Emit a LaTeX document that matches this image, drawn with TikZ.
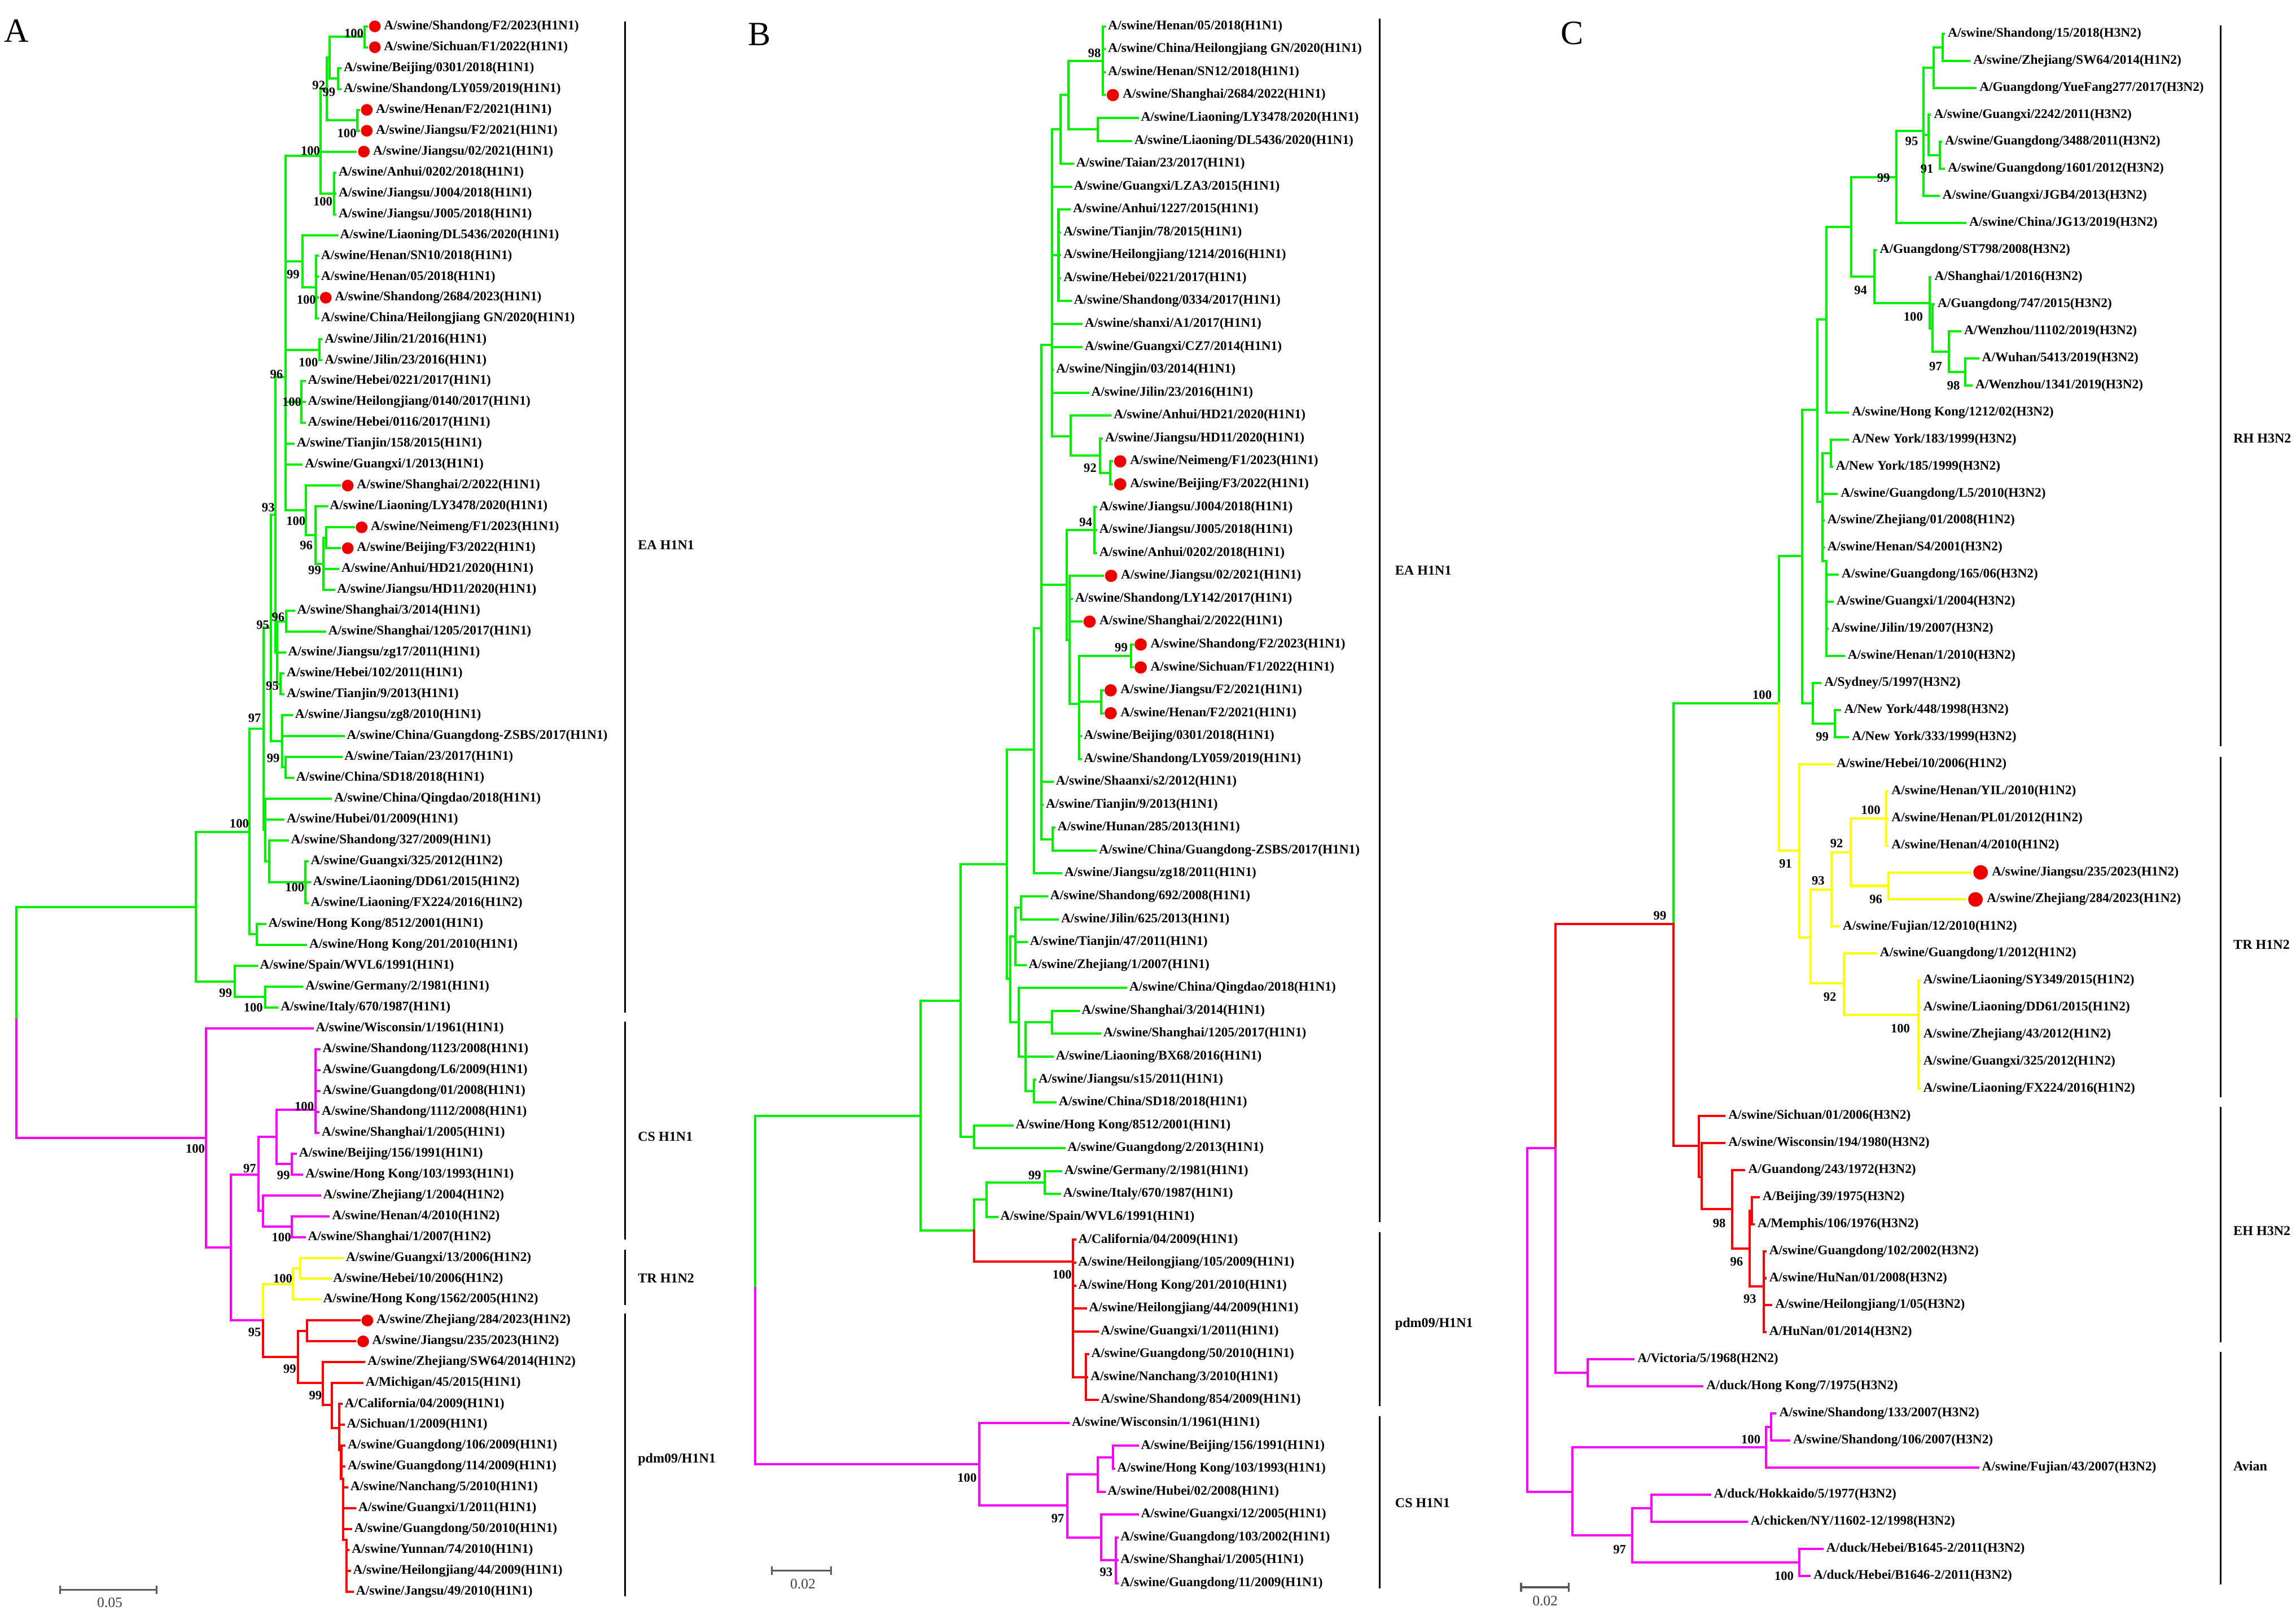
\documentclass[tikz,border=0pt]{standalone}
\usepackage{fontspec}
\setmainfont{Liberation Serif}
\definecolor{cladegreen}{RGB}{0,240,0}
\definecolor{cladepink}{RGB}{255,0,255}
\definecolor{cladeyellow}{RGB}{255,255,0}
\definecolor{cladered}{RGB}{255,0,0}
\definecolor{dotred}{RGB}{238,0,0}

\begin{document}
\begin{tikzpicture}[x=0.025cm, y=-0.025cm,
  grnbr/.style={cladegreen, line width=1.1pt, line cap=rect},
  pinkbr/.style={cladepink, line width=1.1pt, line cap=rect},
  yelbr/.style={cladeyellow, line width=1.1pt, line cap=rect},
  redbr/.style={cladered, line width=1.1pt, line cap=rect},
  leaf/.style={anchor=west, inner sep=0pt, font=\fontsize{6.4}{7}\selectfont\bfseries},
  boot/.style={inner sep=0pt, font=\fontsize{6.2}{7}\selectfont\bfseries},
  clade/.style={anchor=west, inner sep=0pt, font=\fontsize{6.6}{8}\selectfont\bfseries},
  cladebar/.style={line width=0.9pt},
  scalebar/.style={black!65, line width=0.9pt},
  scalelbl/.style={black!75, inner sep=0pt, font=\fontsize{7}{8}\selectfont},
  panel/.style={inner sep=0pt, font=\fontsize{16.5}{18}\selectfont}]
\fill[white] (0,0) rectangle (1568,1106);
\useasboundingbox (0,0) rectangle (1568,1106);

% ---------------- Panel A ----------------
\node[panel] (pA) at (11.3,21) {A};
\begin{scope}[shift={(0,3.75)}, y=-0.35625cm]
  % EA H1N1
  \foreach \x/\a/\b in {249/1/2, 231/3/4, 225/1.5/3.5, 244/5/6, 223/2.5/5.5, 228/8/10, 219/4/9,
    216/12/15, 206.6/11/13.5, 218/16/17, 206/18/20, 222.8/25/26, 221/25.5/28, 215.4/24/26.75,
    209/23/25.375, 195/7.2/24.19, 195.6/29/30, 191.7/32/33, 189.4/29.5/32.5, 188/17.8/31,
    195/36/37, 192.8/34/36.5, 185/24.4/35.25, 208.6/41/43, 184/40/42, 181/38/41, 180/29.8/39.5,
    175.3/44/45, 170.5/34.65/44.5, 181/47/48, 160.3/46/47.5, 133.7/39.6/46.75, 11.3/43.2/48.6}
    \draw[grnbr] (\x,\a) -- (\x,\b);
  \foreach \a/\b/\r in {225/249/1.5, 225/231/3.5, 223/225/2.5, 223/244/5.5, 219/223/4, 219/228/9,
    195/219/7.2, 206.6/216/13.5, 195/206.6/12.25, 195/218/16.5, 195/206/19, 221/222.8/25.5,
    215.4/221/26.75, 209/215.4/25.375, 195/209/24.19, 188/195/17.8, 189.4/195.6/29.5,
    189.4/191.7/32.5, 188/189.4/31, 192.8/195/36.5, 185/188/24.4, 185/192.8/35.25, 184/208.6/42,
    181/184/41, 180/185/29.8, 180/181/39.5, 170.5/180/34.65, 170.5/175.3/44.5, 160.3/181/47.5,
    133.7/170.5/39.6, 133.7/160.3/46.75, 11.3/133.7/43.2}
    \draw[grnbr] (\a,\r) -- (\b,\r);
  \foreach \r/\p/\t/\l in {
    3/231/232.5/{A/swine/Beijing/0301/2018(H1N1)}, 4/231/232.5/{A/swine/Shandong/LY059/2019(H1N1)},
    8/228/229/{A/swine/Anhui/0202/2018(H1N1)}, 9/228/229/{A/swine/Jiangsu/J004/2018(H1N1)},
    10/228/229/{A/swine/Jiangsu/J005/2018(H1N1)}, 11/206.6/230/{A/swine/Liaoning/DL5436/2020(H1N1)},
    12/216/217/{A/swine/Henan/SN10/2018(H1N1)}, 13/216/217/{A/swine/Henan/05/2018(H1N1)},
    15/216/217/{A/swine/China/Heilongjiang GN/2020(H1N1)}, 16/218/219.5/{A/swine/Jilin/21/2016(H1N1)},
    17/218/219.5/{A/swine/Jilin/23/2016(H1N1)}, 18/206/208/{A/swine/Hebei/0221/2017(H1N1)},
    19/206/208/{A/swine/Heilongjiang/0140/2017(H1N1)}, 20/206/208/{A/swine/Hebei/0116/2017(H1N1)},
    21/195/200.5/{A/swine/Tianjin/158/2015(H1N1)}, 22/195/206/{A/swine/Guangxi/1/2013(H1N1)},
    24/215.4/223/{A/swine/Liaoning/LY3478/2020(H1N1)}, 27/221/231/{A/swine/Anhui/HD21/2020(H1N1)},
    28/221/228/{A/swine/Jiangsu/HD11/2020(H1N1)}, 29/195.6/200.7/{A/swine/Shanghai/3/2014(H1N1)},
    30/195.6/222/{A/swine/Shanghai/1205/2017(H1N1)}, 31/189.4/194.5/{A/swine/Jiangsu/zg17/2011(H1N1)},
    32/191.7/193.6/{A/swine/Hebei/102/2011(H1N1)}, 33/191.7/193.6/{A/swine/Tianjin/9/2013(H1N1)},
    34/192.8/199.3/{A/swine/Jiangsu/zg8/2010(H1N1)}, 35/192.8/234.6/{A/swine/China/Guangdong-ZSBS/2017(H1N1)},
    36/195/233/{A/swine/Taian/23/2017(H1N1)}, 37/195/200/{A/swine/China/SD18/2018(H1N1)},
    38/181/226/{A/swine/China/Qingdao/2018(H1N1)}, 39/181/193.6/{A/swine/Hubei/01/2009(H1N1)},
    40/184/196.5/{A/swine/Shandong/327/2009(H1N1)}, 41/208.6/210/{A/swine/Guangxi/325/2012(H1N2)},
    42/208.6/211.5/{A/swine/Liaoning/DD61/2015(H1N2)}, 43/208.6/210/{A/swine/Liaoning/FX224/2016(H1N2)},
    44/175.3/181/{A/swine/Hong Kong/8512/2001(H1N1)}, 45/175.3/209/{A/swine/Hong Kong/201/2010(H1N1)},
    46/160.3/175.3/{A/swine/Spain/WVL6/1991(H1N1)}, 47/181/206.4/{A/swine/Germany/2/1981(H1N1)},
    48/181/189.4/{A/swine/Italy/670/1987(H1N1)}}
    {\draw[grnbr] (\p,\r) -- (\t,\r); \node[leaf] (a\r) at (\t+2,\r) {\l};}
  \foreach \r/\p/\t/\l in {
    1/249/250.5/{A/swine/Shandong/F2/2023(H1N1)}, 2/249/250.5/{A/swine/Sichuan/F1/2022(H1N1)},
    5/244/245/{A/swine/Henan/F2/2021(H1N1)}, 6/244/245/{A/swine/Jiangsu/F2/2021(H1N1)},
    7/219/243/{A/swine/Jiangsu/02/2021(H1N1)}, 14/216/217/{A/swine/Shandong/2684/2023(H1N1)},
    23/209/232/{A/swine/Shanghai/2/2022(H1N1)}, 25/222.8/241.5/{A/swine/Neimeng/F1/2023(H1N1)},
    26/222.8/232/{A/swine/Beijing/F3/2022(H1N1)}}
    {\draw[grnbr] (\p,\r) -- (\t,\r); \fill[dotred] (\t+5.5,\r) circle (0.1cm);
     \node[leaf] (a\r) at (\t+11.5,\r) {\l};}

  % CS H1N1
  \foreach \x/\a/\b in {11.3/48.6/54.25, 140.8/49/59.5, 157.7/56/63, 176.7/54.2/57.75, 188.8/52.9/55.5,
    215.5/50/54, 199.3/55/56, 179.5/57/58.5, 199.3/58/59}
    \draw[pinkbr] (\x,\a) -- (\x,\b);
  \foreach \a/\b/\r in {11.3/140.8/54.25, 140.8/157.7/59.5, 157.7/176.7/56, 176.7/188.8/54.2,
    188.8/215.5/52.9, 188.8/199.3/55.5, 176.7/179.5/57.75, 179.5/199.3/58.5, 157.7/179.5/63}
    \draw[pinkbr] (\a,\r) -- (\b,\r);
  \foreach \r/\p/\t/\l in {
    49/140.8/213.4/{A/swine/Wisconsin/1/1961(H1N1)}, 50/215.5/218/{A/swine/Shandong/1123/2008(H1N1)},
    51/215.5/218/{A/swine/Guangdong/L6/2009(H1N1)}, 52/215.5/218/{A/swine/Guangdong/01/2008(H1N1)},
    53/215.5/217.5/{A/swine/Shandong/1112/2008(H1N1)}, 54/215.5/217.5/{A/swine/Shanghai/1/2005(H1N1)},
    55/199.3/202/{A/swine/Beijing/156/1991(H1N1)}, 56/199.3/206.4/{A/swine/Hong Kong/103/1993(H1N1)},
    57/179.5/218.5/{A/swine/Zhejiang/1/2004(H1N2)}, 58/199.3/224.5/{A/swine/Henan/4/2010(H1N2)},
    59/199.3/208/{A/swine/Shanghai/1/2007(H1N2)}}
    {\draw[pinkbr] (\p,\r) -- (\t,\r); \node[leaf] (a\r) at (\t+2,\r) {\l};}

  % TR H1N2
  \foreach \x/\a/\b in {179.5/61.25/63, 199.9/60.5/62, 205/60/61}
    \draw[yelbr] (\x,\a) -- (\x,\b);
  \foreach \a/\b/\r in {179.5/199.9/61.25, 199.9/205/60.5}
    \draw[yelbr] (\a,\r) -- (\b,\r);
  \foreach \r/\p/\t/\l in {
    60/205/234/{A/swine/Guangxi/13/2006(H1N2)}, 61/205/225.3/{A/swine/Hebei/10/2006(H1N2)},
    62/199.9/218.5/{A/swine/Hong Kong/1562/2005(H1N2)}}
    {\draw[yelbr] (\p,\r) -- (\t,\r); \node[leaf] (a\r) at (\t+2,\r) {\l};}

  % pdm09/H1N1
  \foreach \x/\a/\b in {179.5/63/64.75, 203.5/63.5/66, 209.8/63/64, 220.5/65/67.05, 226.7/66/68.15,
    231.5/67/69.2, 233/69/70.6, 234.5/70.6/73.5, 236.5/73.5/76}
    \draw[redbr] (\x,\a) -- (\x,\b);
  \foreach \a/\b/\r in {179.5/203.5/64.75, 203.5/209.8/63.5, 203.5/220.5/66, 220.5/226.7/67.05,
    226.7/231.5/68.15, 231.5/233/69.2, 233/234.5/70.6, 234.5/236.5/73.5}
    \draw[redbr] (\a,\r) -- (\b,\r);
  \foreach \r/\p/\t/\l in {
    65/220.5/248.8/{A/swine/Zhejiang/SW64/2014(H1N2)}, 66/226.7/247.4/{A/Michigan/45/2015(H1N1)},
    67/231.5/233.2/{A/California/04/2009(H1N1)}, 68/231.5/234.6/{A/Sichuan/1/2009(H1N1)},
    69/233/235.2/{A/swine/Guangdong/106/2009(H1N1)}, 70/233/235.2/{A/swine/Guangdong/114/2009(H1N1)},
    71/234.5/237/{A/swine/Nanchang/5/2010(H1N1)}, 72/234.5/242.5/{A/swine/Guangxi/1/2011(H1N1)},
    73/234.5/239.7/{A/swine/Guangdong/50/2010(H1N1)}, 74/236.5/238/{A/swine/Yunnan/74/2010(H1N1)},
    75/236.5/238.9/{A/swine/Heilongjiang/44/2009(H1N1)}, 76/236.5/240.9/{A/swine/Jangsu/49/2010(H1N1)}}
    {\draw[redbr] (\p,\r) -- (\t,\r); \node[leaf] (a\r) at (\t+2,\r) {\l};}
  \foreach \r/\p/\t/\l in {
    63/209.8/245.4/{A/swine/Zhejiang/284/2023(H1N2)}, 64/209.8/242.5/{A/swine/Jiangsu/235/2023(H1N2)}}
    {\draw[redbr] (\p,\r) -- (\t,\r); \fill[dotred] (\t+5.5,\r) circle (0.1cm);
     \node[leaf] (a\r) at (\t+11.5,\r) {\l};}

  % bootstrap values
  \foreach \x/\r/\v [count=\i] in {241.7/1.33/100, 217.7/3.82/92, 224.7/4.14/99, 236.9/6.12/100,
    212/6.95/100, 220.5/9.4/100, 200.2/12.89/99, 209.2/14.1/100, 210.6/17.1/100, 188.8/17.67/96,
    199.3/19.0/100, 183.2/24.06/93, 202.1/24.7/100, 209.2/25.85/96, 214.9/27.06/99, 190/29.3/96,
    179.5/29.68/95, 186/32.6/95, 173.9/34.14/97, 186.6/36.06/99, 163.4/39.2/100, 201.3/42.26/100,
    154.1/47.3/99, 173/48.0/100, 207.8/52.73/100, 133.4/54.77/100, 170.5/55.72/97, 193.6/56.05/99,
    192.2/59.02/100, 193.1/60.98/100, 173.9/63.56/95, 197.9/65.33/99, 215.4/66.6/99}
    \node[boot] (bsA\i) at (\x,\r) {\v};
\end{scope}
% clade bars A
\draw[cladebar] (426.9,14.5) -- (426.9,691.4);
\draw[cladebar] (426.9,697.8) -- (426.9,846.6);
\draw[cladebar] (426.9,853.5) -- (426.9,891);
\draw[cladebar] (426.9,897) -- (426.9,1090);
\node[clade] (eaA) at (435.4,372) {EA H1N1};
\node[clade] (csA) at (435.4,776) {CS H1N1};
\node[clade] (trA) at (435.4,872.7) {TR H1N2};
\node[clade] (pdmA) at (435.4,996.6) {pdm09/H1N1};
\draw[scalebar] (41,1082.6) -- (41,1088.6) (41,1085.6) -- (106.9,1085.6) (106.9,1082.6) -- (106.9,1088.6);
\node[scalelbl] (sclA) at (75,1094.5) {0.05};

% ---------------- Panel B ----------------
\node[panel] (pB) at (518.8,23.6) {B};
\begin{scope}[shift={(0,2.37)}, y=-0.39075cm]
  % EA H1N1
  \foreach \x/\a/\b in {753.3/1/4, 749.5/5/6, 729.7/2.5/5.5, 724.4/4/7, 722.9/9/13, 758.3/20/21,
    751.3/19/20.5, 731.2/18/19.75, 718.5/5.5/18.9, 747.4/22/24, 772.5/28/29, 751.9/30/31,
    737.1/28.5/33, 730.6/25/30.6, 728.3/23/27.8, 718.8/36/37, 711.1/14.9/36.5, 706.1/27.3/38,
    697.3/39/40, 693.4/39.5/42, 718.5/44/45, 706.1/47/48, 700.5/44.5/47.5, 695.8/43/46,
    689.9/40.75/44.5, 687.6/32.6/42.6, 665.4/49/50, 655.9/37.6/49.5, 713.5/51/52, 673.7/51.5/53,
    665.4/52.25/53.6, 628.5/43.55/53.6, 515.9/48.6/56.1}
    \draw[grnbr] (\x,\a) -- (\x,\b);
  \foreach \a/\b/\r in {729.7/753.3/2.5, 729.7/749.5/5.5, 724.4/729.7/4, 718.5/724.4/5.5,
    718.5/722.9/11, 751.3/758.3/20.5, 731.2/751.3/19.75, 718.5/731.2/18.9, 711.1/718.5/14.9,
    730.6/737.1/30.6, 737.1/772.5/28.5, 737.1/751.9/30.5, 728.3/747.4/23, 728.3/730.6/27.8,
    711.1/728.3/25.4, 711.1/718.8/36.5, 706.1/711.1/27.3, 693.4/697.3/39.5, 700.5/718.5/44.5,
    700.5/706.1/47.5, 695.8/700.5/46, 689.9/693.4/40.75, 689.9/695.8/44.5, 687.6/706.1/32.6,
    687.6/689.9/42.6, 655.9/687.6/37.6, 655.9/665.4/49.5, 673.7/713.5/51.5, 665.4/673.7/52.25,
    628.5/655.9/43.55, 628.5/665.4/53.6, 515.9/628.5/48.6}
    \draw[grnbr] (\a,\r) -- (\b,\r);
  \foreach \r/\p/\t/\l in {
    1/753.3/754.5/{A/swine/Henan/05/2018(H1N1)}, 2/753.3/754.5/{A/swine/China/Heilongjiang GN/2020(H1N1)},
    3/753.3/754.5/{A/swine/Henan/SN12/2018(H1N1)}, 5/749.5/776.9/{A/swine/Liaoning/LY3478/2020(H1N1)},
    6/749.5/772.5/{A/swine/Liaoning/DL5436/2020(H1N1)}, 7/724.4/732.7/{A/swine/Taian/23/2017(H1N1)},
    8/718.5/731.2/{A/swine/Guangxi/LZA3/2015(H1N1)}, 9/722.9/730.6/{A/swine/Anhui/1227/2015(H1N1)},
    10/722.9/724/{A/swine/Tianjin/78/2015(H1N1)}, 11/722.9/724/{A/swine/Heilongjiang/1214/2016(H1N1)},
    12/722.9/724/{A/swine/Hebei/0221/2017(H1N1)}, 13/722.9/731.2/{A/swine/Shandong/0334/2017(H1N1)},
    14/718.5/738.6/{A/swine/shanxi/A1/2017(H1N1)}, 15/718.5/738.6/{A/swine/Guangxi/CZ7/2014(H1N1)},
    16/718.5/719/{A/swine/Ningjin/03/2014(H1N1)}, 17/718.5/743/{A/swine/Jilin/23/2016(H1N1)},
    18/731.2/758.3/{A/swine/Anhui/HD21/2020(H1N1)}, 19/751.3/752.5/{A/swine/Jiangsu/HD11/2020(H1N1)},
    22/747.4/748.5/{A/swine/Jiangsu/J004/2018(H1N1)}, 23/747.4/748.5/{A/swine/Jiangsu/J005/2018(H1N1)},
    24/747.4/748.5/{A/swine/Anhui/0202/2018(H1N1)}, 26/730.6/732/{A/swine/Shandong/LY142/2017(H1N1)},
    32/737.1/738/{A/swine/Beijing/0301/2018(H1N1)}, 33/737.1/738/{A/swine/Shandong/LY059/2019(H1N1)},
    34/711.1/718.8/{A/swine/Shaanxi/s2/2012(H1N1)}, 35/711.1/712/{A/swine/Tianjin/9/2013(H1N1)},
    36/718.8/720/{A/swine/Hunan/285/2013(H1N1)}, 37/718.8/748.3/{A/swine/China/Guangdong-ZSBS/2017(H1N1)},
    38/706.1/724.7/{A/swine/Jiangsu/zg18/2011(H1N1)}, 39/697.3/715/{A/swine/Shandong/692/2008(H1N1)},
    40/697.3/722.4/{A/swine/Jilin/625/2013(H1N1)}, 41/693.4/701.1/{A/swine/Tianjin/47/2011(H1N1)},
    42/693.4/700.2/{A/swine/Zhejiang/1/2007(H1N1)}, 43/695.8/769/{A/swine/China/Qingdao/2018(H1N1)},
    44/718.5/736.5/{A/swine/Shanghai/3/2014(H1N1)}, 45/718.5/751.3/{A/swine/Shanghai/1205/2017(H1N1)},
    46/700.5/718.8/{A/swine/Liaoning/BX68/2016(H1N1)}, 47/706.1/707/{A/swine/Jiangsu/s15/2011(H1N1)},
    48/706.1/720.9/{A/swine/China/SD18/2018(H1N1)}, 49/665.4/691.4/{A/swine/Hong Kong/8512/2001(H1N1)},
    50/665.4/726.8/{A/swine/Guangdong/2/2013(H1N1)}, 51/713.5/724.7/{A/swine/Germany/2/1981(H1N1)},
    52/713.5/723.8/{A/swine/Italy/670/1987(H1N1)}, 53/673.7/681/{A/swine/Spain/WVL6/1991(H1N1)}}
    {\draw[grnbr] (\p,\r) -- (\t,\r); \node[leaf] (b\r) at (\t+2,\r) {\l};}
  \foreach \r/\p/\t/\l in {
    4/753.3/754.5/{A/swine/Shanghai/2684/2022(H1N1)}, 20/758.3/759.5/{A/swine/Neimeng/F1/2023(H1N1)},
    21/758.3/759.5/{A/swine/Beijing/F3/2022(H1N1)}, 25/730.6/753.3/{A/swine/Jiangsu/02/2021(H1N1)},
    27/730.6/738.6/{A/swine/Shanghai/2/2022(H1N1)}, 28/772.5/773.5/{A/swine/Shandong/F2/2023(H1N1)},
    29/772.5/773.5/{A/swine/Sichuan/F1/2022(H1N1)}, 30/751.9/753/{A/swine/Jiangsu/F2/2021(H1N1)},
    31/751.9/753/{A/swine/Henan/F2/2021(H1N1)}}
    {\draw[grnbr] (\p,\r) -- (\t,\r); \fill[dotred] (\t+5.5,\r) circle (0.105cm);
     \node[leaf] (b\r) at (\t+12,\r) {\l};}

  % pdm09/H1N1
  \foreach \x/\a/\b in {665.4/53.6/54.96, 732.7/54/60, 741.5/59/61}
    \draw[redbr] (\x,\a) -- (\x,\b);
  \foreach \a/\b/\r in {665.4/732.7/54.96, 732.7/741.5/60}
    \draw[redbr] (\a,\r) -- (\b,\r);
  \foreach \r/\p/\t/\l in {
    54/732.7/734.2/{A/California/04/2009(H1N1)}, 55/732.7/734.2/{A/swine/Heilongjiang/105/2009(H1N1)},
    56/732.7/734.2/{A/swine/Hong Kong/201/2010(H1N1)}, 57/732.7/741.5/{A/swine/Heilongjiang/44/2009(H1N1)},
    58/732.7/749.5/{A/swine/Guangxi/1/2011(H1N1)}, 59/741.5/743/{A/swine/Guangdong/50/2010(H1N1)},
    60/741.5/742.5/{A/swine/Nanchang/3/2010(H1N1)}, 61/741.5/749.5/{A/swine/Shandong/854/2009(H1N1)}}
    {\draw[redbr] (\p,\r) -- (\t,\r); \node[leaf] (b\r) at (\t+2,\r) {\l};}

  % CS H1N1
  \foreach \x/\a/\b in {515.9/56.1/63.8, 668.7/62/65.6, 728.9/64.25/67, 749.8/63.5/65, 760.1/63/64,
    751.9/66/68, 762.2/67/69}
    \draw[pinkbr] (\x,\a) -- (\x,\b);
  \foreach \a/\b/\r in {515.9/668.7/63.8, 668.7/728.9/65.6, 728.9/749.8/64.25, 749.8/760.1/63.5,
    728.9/751.9/67, 751.9/762.2/68}
    \draw[pinkbr] (\a,\r) -- (\b,\r);
  \foreach \r/\p/\t/\l in {
    62/668.7/729.7/{A/swine/Wisconsin/1/1961(H1N1)}, 63/760.1/776.9/{A/swine/Beijing/156/1991(H1N1)},
    64/760.1/760.8/{A/swine/Hong Kong/103/1993(H1N1)}, 65/749.8/754.2/{A/swine/Hubei/02/2008(H1N1)},
    66/751.9/776.9/{A/swine/Guangxi/12/2005(H1N1)}, 67/762.2/763/{A/swine/Guangdong/103/2002(H1N1)},
    68/762.2/763/{A/swine/Shanghai/1/2005(H1N1)}, 69/762.2/763/{A/swine/Guangdong/11/2009(H1N1)}}
    {\draw[pinkbr] (\p,\r) -- (\t,\r); \node[leaf] (b\r) at (\t+2,\r) {\l};}

  % bootstrap values
  \foreach \x/\r/\v [count=\i] in {747.4/2.18/98, 744.5/20.28/92, 741.5/22.66/94, 765.7/28.13/99,
    706.7/51.18/99, 725.3/55.52/100, 660.4/64.39/100, 722.4/66.18/97, 755.4/68.52/93}
    \node[boot] (bsB\i) at (\x,\r) {\v};
\end{scope}
% clade bars B
\draw[cladebar] (942.1,12.7) -- (942.1,834.3);
\draw[cladebar] (942.1,841.3) -- (942.1,960);
\draw[cladebar] (942.1,967) -- (942.1,1084.8);
\node[clade] (eaB) at (952.5,389.4) {EA H1N1};
\node[clade] (pdmB) at (952.5,904) {pdm09/H1N1};
\node[clade] (csB) at (952.5,1026.3) {CS H1N1};
\draw[scalebar] (527,1069.5) -- (527,1075.5) (527,1072.5) -- (567.5,1072.5) (567.5,1069.5) -- (567.5,1075.5);
\node[scalelbl] (sclB) at (548.3,1081.5) {0.02};

% ---------------- Panel C ----------------
\node[panel] (pC) at (1073.7,22.7) {C};
\begin{scope}[shift={(0,4.53)}, y=-0.46175cm]
  % RH H3N2
  \foreach \x/\a/\b in {1326.8/1/2, 1320.5/1.5/3, 1324.7/5/6, 1317/4/5.5, 1313.5/2.25/7, 1295/4.6/8,
    1342.1/13/14, 1331/12/13.5, 1319.8/11/12.75, 1317.7/10/11.9, 1280.1/9/10.95, 1264.4/6.3/9.98,
    1247.3/8.14/15, 1250.4/16/17, 1244.5/16.5/20.5, 1247.3/20.5/24, 1241/11.57/18.3, 1253.2/26/27,
    1238.2/25/26.5, 1230.6/14.9/25.75, 1214.9/20.3/25.76, 1142.7/25.76/33.9}
    \draw[grnbr] (\x,\a) -- (\x,\b);
  \foreach \a/\b/\r in {1320.5/1326.8/1.5, 1313.5/1320.5/2.25, 1317/1324.7/5.5, 1313.5/1317/4.75,
    1295/1313.5/4.6, 1331/1342.1/13.5, 1319.8/1331/12.75, 1317.7/1319.8/11.9, 1280.1/1317.7/10.95,
    1264.4/1295/6.3, 1264.4/1280.1/9.98, 1247.3/1264.4/8.14, 1241/1247.3/11.57, 1244.5/1250.4/16.5,
    1244.5/1247.3/20.5, 1241/1244.5/18.3, 1230.6/1241/14.9, 1238.2/1253.2/26.5, 1230.6/1238.2/25.75,
    1214.9/1230.6/20.3, 1142.7/1214.9/25.76}
    \draw[grnbr] (\a,\r) -- (\b,\r);
  \foreach \r/\p/\t/\l in {
    1/1326.8/1327.5/{A/swine/Shandong/15/2018(H3N2)}, 2/1326.8/1344.9/{A/swine/Zhejiang/SW64/2014(H1N2)},
    3/1320.5/1349.1/{A/Guangdong/YueFang277/2017(H3N2)}, 4/1317/1318/{A/swine/Guangxi/2242/2011(H3N2)},
    5/1324.7/1325.5/{A/swine/Guangdong/3488/2011(H3N2)}, 6/1324.7/1327.5/{A/swine/Guangdong/1601/2012(H3N2)},
    7/1313.5/1323.9/{A/swine/Guangxi/JGB4/2013(H3N2)}, 8/1295/1342.1/{A/swine/China/JG13/2019(H3N2)},
    9/1280.1/1281/{A/Guangdong/ST798/2008(H3N2)}, 10/1317.7/1318.4/{A/Shanghai/1/2016(H3N2)},
    11/1319.8/1320.5/{A/Guangdong/747/2015(H3N2)}, 12/1331/1338.6/{A/Wenzhou/11102/2019(H3N2)},
    13/1342.1/1350.8/{A/Wuhan/5413/2019(H3N2)}, 14/1342.1/1346.3/{A/Wenzhou/1341/2019(H3N2)},
    15/1247.3/1262/{A/swine/Hong Kong/1212/02(H3N2)}, 16/1250.4/1262/{A/New York/183/1999(H3N2)},
    17/1250.4/1251/{A/New York/185/1999(H3N2)}, 18/1244.5/1254.3/{A/swine/Guangdong/L5/2010(H3N2)},
    19/1244.5/1245.2/{A/swine/Zhejiang/01/2008(H1N2)}, 20/1244.5/1245.2/{A/swine/Henan/S4/2001(H3N2)},
    21/1247.3/1255/{A/swine/Guangdong/165/06(H3N2)}, 22/1247.3/1251.5/{A/swine/Guangxi/1/2004(H3N2)},
    23/1247.3/1248/{A/swine/Jilin/19/2007(H3N2)}, 24/1247.3/1259.1/{A/swine/Henan/1/2010(H3N2)},
    25/1238.2/1243.1/{A/Sydney/5/1997(H3N2)}, 26/1253.2/1256.7/{A/New York/448/1998(H3N2)},
    27/1253.2/1262/{A/New York/333/1999(H3N2)}}
    {\draw[grnbr] (\p,\r) -- (\t,\r); \node[leaf] (c\r) at (\t+2.5,\r) {\l};}

  % TR H1N2
  \foreach \x/\a/\b in {1214.9/25.76/31.2, 1228.8/28/34.4, 1236.5/32.63/36.1, 1250.8/31.25/34,
    1263.7/30/32.5, 1288.1/29/31, 1289.8/32/33, 1259.2/35/37.26, 1310/36/40}
    \draw[yelbr] (\x,\a) -- (\x,\b);
  \foreach \a/\b/\r in {1214.9/1228.8/31.2, 1228.8/1236.5/34.4, 1236.5/1250.8/32.63,
    1250.8/1263.7/31.25, 1263.7/1288.1/30, 1263.7/1289.8/32.5, 1236.5/1259.2/36.1, 1259.2/1310/37.26}
    \draw[yelbr] (\a,\r) -- (\b,\r);
  \foreach \r/\p/\t/\l in {
    28/1228.8/1251.5/{A/swine/Hebei/10/2006(H1N2)}, 29/1288.1/1289/{A/swine/Henan/YIL/2010(H1N2)},
    30/1288.1/1289/{A/swine/Henan/PL01/2012(H1N2)}, 31/1288.1/1289/{A/swine/Henan/4/2010(H1N2)},
    34/1250.8/1255.7/{A/swine/Fujian/12/2010(H1N2)}, 35/1259.2/1281.1/{A/swine/Guangdong/1/2012(H1N2)},
    36/1310/1310.8/{A/swine/Liaoning/SY349/2015(H1N2)}, 37/1310/1310.8/{A/swine/Liaoning/DD61/2015(H1N2)},
    38/1310/1310.8/{A/swine/Zhejiang/43/2012(H1N2)}, 39/1310/1310.8/{A/swine/Guangxi/325/2012(H1N2)},
    40/1310/1310.8/{A/swine/Liaoning/FX224/2016(H1N2)}}
    {\draw[yelbr] (\p,\r) -- (\t,\r); \node[leaf] (c\r) at (\t+2.5,\r) {\l};}
  \foreach \r/\p/\t/\l in {
    32/1289.8/1345.6/{A/swine/Jiangsu/235/2023(H1N2)}, 33/1289.8/1342.1/{A/swine/Zhejiang/284/2023(H1N2)}}
    {\draw[yelbr] (\p,\r) -- (\t,\r); \fill[dotred] (\t+7,\r) circle (0.125cm);
     \node[leaf] (c\r) at (\t+14.5,\r) {\l};}

  % EH H3N2
  \foreach \x/\a/\b in {1142.7/33.9/42.1, 1062.2/33.9/42.2, 1160.1/41/43.25, 1162.2/42/44.45,
    1182.8/43/45.9, 1195/44.5/47.3, 1196.5/44/45, 1204.4/46/49}
    \draw[redbr] (\x,\a) -- (\x,\b);
  \foreach \a/\b/\r in {1062.2/1142.7/33.9, 1142.7/1160.1/42.1, 1160.1/1162.2/43.25,
    1162.2/1182.8/44.45, 1182.8/1195/45.9, 1195/1196.5/44.5, 1195/1204.4/47.3}
    \draw[redbr] (\a,\r) -- (\b,\r);
  \foreach \r/\p/\t/\l in {
    41/1160.1/1177.6/{A/swine/Sichuan/01/2006(H3N2)}, 42/1162.2/1177.6/{A/swine/Wisconsin/194/1980(H3N2)},
    43/1182.8/1191.2/{A/Guandong/243/1972(H3N2)}, 44/1196.5/1201/{A/Beijing/39/1975(H3N2)},
    45/1196.5/1197.5/{A/Memphis/106/1976(H3N2)}, 46/1204.4/1205.5/{A/swine/Guangdong/102/2002(H3N2)},
    47/1204.4/1205.5/{A/swine/HuNan/01/2008(H3N2)}, 48/1204.4/1209.6/{A/swine/Heilongjiang/1/05(H3N2)},
    49/1204.4/1205.5/{A/HuNan/01/2014(H3N2)}}
    {\draw[redbr] (\p,\r) -- (\t,\r); \node[leaf] (c\r) at (\t+2.5,\r) {\l};}

  % Avian
  \foreach \x/\a/\b in {1062.2/42.2/50.5, 1043/42.2/54.9, 1084.2/50/51, 1073.7/53.25/56.5,
    1206.2/52.5/54, 1209.6/52/53, 1114.8/55.5/57.5, 1127.7/55/56, 1228.8/57/58}
    \draw[pinkbr] (\x,\a) -- (\x,\b);
  \foreach \a/\b/\r in {1043/1062.2/42.2, 1062.2/1084.2/50.5, 1043/1073.7/54.9, 1073.7/1206.2/53.25,
    1206.2/1209.6/52.5, 1073.7/1114.8/56.5, 1114.8/1127.7/55.5, 1114.8/1228.8/57.5}
    \draw[pinkbr] (\a,\r) -- (\b,\r);
  \foreach \r/\p/\t/\l in {
    50/1084.2/1115.5/{A/Victoria/5/1968(H2N2)}, 51/1084.2/1162.6/{A/duck/Hong Kong/7/1975(H3N2)},
    52/1209.6/1212.4/{A/swine/Shandong/133/2007(H3N2)}, 53/1209.6/1221.8/{A/swine/Shandong/106/2007(H3N2)},
    54/1206.2/1350.8/{A/swine/Fujian/43/2007(H3N2)}, 55/1127.7/1167.8/{A/duck/Hokkaido/5/1977(H3N2)},
    56/1127.7/1192.9/{A/chicken/NY/11602-12/1998(H3N2)}, 57/1228.8/1244.5/{A/duck/Hebei/B1645-2/2011(H3N2)},
    58/1228.8/1235.8/{A/duck/Hebei/B1646-2/2011(H3N2)}}
    {\draw[pinkbr] (\p,\r) -- (\t,\r); \node[leaf] (c\r) at (\t+2.5,\r) {\l};}

  % bootstrap values
  \foreach \x/\r/\v [count=\i] in {1305.5/4.97/95, 1316/6.0/91, 1286.3/6.33/99, 1270.7/10.49/94,
    1306.6/11.47/100, 1321.9/13.3/97, 1334.1/14.0/98, 1203.4/25.43/100, 1244.5/26.99/99,
    1277.6/29.7/100, 1254.3/30.93/92, 1219.4/31.68/91, 1241.7/32.31/93, 1281.1/33.0/96,
    1249.7/36.6/92, 1297.8/37.76/100, 1133.6/33.6/99, 1174.1/44.97/98, 1186/46.39/96,
    1195/47.76/93, 1195.7/52.96/100, 1106.1/57.02/97, 1218.4/58.0/100}
    \node[boot] (bsC\i) at (\x,\r) {\v};
\end{scope}
% clade bars C
\draw[cladebar] (1516.4,17.3) -- (1516.4,509.4);
\draw[cladebar] (1516.4,516.7) -- (1516.4,749.3);
\draw[cladebar] (1516.4,756) -- (1516.4,916.4);
\draw[cladebar] (1516.4,923.3) -- (1516.4,1082.1);
\node[clade] (rhC) at (1525,299.3) {RH H3N2};
\node[clade] (trC) at (1525,645) {TR H1N2};
\node[clade] (ehC) at (1525,840.5) {EH H3N2};
\node[clade] (avC) at (1525,1001) {Avian};
\draw[scalebar] (1038.8,1080.9) -- (1038.8,1086.9) (1038.8,1083.9) -- (1071.3,1083.9) (1071.3,1080.9) -- (1071.3,1086.9);
\node[scalelbl] (sclC) at (1055.2,1093) {0.02};
\end{tikzpicture}
\end{document}
